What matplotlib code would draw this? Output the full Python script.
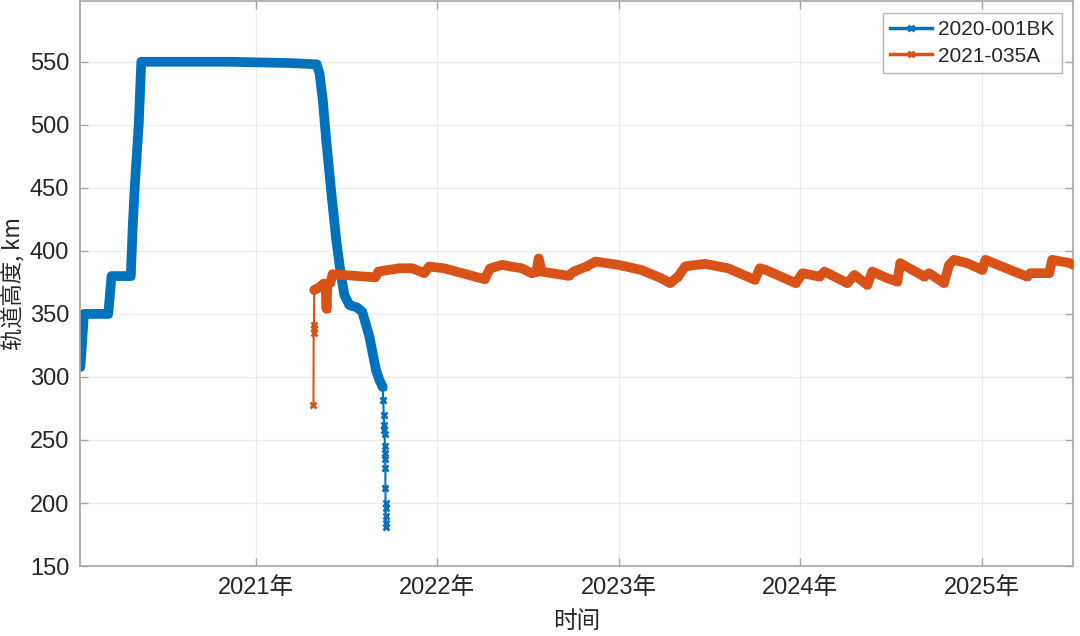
import datetime as dt
import matplotlib
matplotlib.use('Agg')
import matplotlib.pyplot as plt
from matplotlib.lines import Line2D

# decimal years, altitudes in km
blue_t = [2020.037, 2020.045, 2020.056, 2020.190, 2020.199, 2020.208, 2020.314,
          2020.325, 2020.336, 2020.358, 2020.372, 2020.857, 2021.187, 2021.335,
          2021.351, 2021.369, 2021.388, 2021.415, 2021.443, 2021.467, 2021.488,
          2021.516, 2021.560, 2021.587, 2021.626, 2021.662, 2021.681, 2021.699]
blue_h = [308, 325, 350, 350, 365, 380, 380,
          420, 451, 501, 550, 550, 549, 548,
          541, 520, 488, 448, 409, 383, 365,
          357, 355, 351.6, 332, 305.6, 297.6, 292]
# sparse tail of 2020-001BK
tail_t = [2021.702, 2021.705, 2021.708, 2021.709, 2021.710, 2021.711, 2021.712,
          2021.713, 2021.714, 2021.714, 2021.715, 2021.716, 2021.716, 2021.717, 2021.717]
tail_h = [282, 270, 262, 258, 255, 245, 240, 235, 228, 212, 200, 196, 190, 184, 181]

# first samples of 2021-035A (sparse)
start_t = [2021.318, 2021.319, 2021.320, 2021.321, 2021.322]
start_h = [277.5, 334.6, 338.6, 341, 369]
orange_t = [2021.322, 2021.351, 2021.373, 2021.384, 2021.390, 2021.395, 2021.412,
            2021.423, 2021.659, 2021.675, 2021.790, 2021.862, 2021.928, 2021.955,
            2022.037, 2022.262, 2022.290, 2022.356, 2022.465, 2022.520, 2022.545,
            2022.559, 2022.575, 2022.723, 2022.751, 2022.822, 2022.872, 2022.998,
            2023.124, 2023.234, 2023.283, 2023.327, 2023.366, 2023.382, 2023.475,
            2023.602, 2023.750, 2023.777, 2023.810, 2023.975, 2024.013, 2024.106,
            2024.134, 2024.260, 2024.299, 2024.370, 2024.397, 2024.480, 2024.535,
            2024.551, 2024.683, 2024.710, 2024.792, 2024.820, 2024.847, 2024.919,
            2025.001, 2025.018, 2025.177, 2025.248, 2025.265, 2025.369, 2025.385,
            2025.484, 2025.50]
orange_h = [369, 371, 374, 374, 354, 374, 375,
            381.5, 379, 383.6, 386.2, 386.2, 382.3, 387.6,
            386.2, 377.5, 386, 388.9, 386.2, 382.3, 383,
            394, 383.6, 380.2, 383.6, 387.6, 391.5, 388.9,
            384.9, 378.3, 374.4, 379.6, 387.6, 388.1, 389.7,
            386.2, 377, 386.2, 384.9, 374.4, 382.3, 379.6,
            383.6, 374.4, 380.9, 373, 383.6, 378.3, 375.6,
            390.3, 379.6, 382.3, 374.4, 388.9, 392.9, 390.3,
            384.9, 392.9, 383.6, 379.6, 382.3, 382.3, 392.9,
            390.3, 389]

year_ticks = [2021, 2022, 2023, 2024, 2025]
y_ticks = [150, 200, 250, 300, 350, 400, 450, 500, 550]
names = ['2020-001BK', '2021-035A']


def to_date(y):
    yr = int(y)
    return dt.datetime(yr, 1, 1) + dt.timedelta(days=(y - yr) * 365.25)


def dates(ts):
    return [to_date(t) for t in ts]


c_blue = '#0072BD'
c_orange = '#D95319'

plt.rcParams['font.family'] = ['Liberation Sans', 'Noto Sans CJK SC']

fig = plt.figure(figsize=(10.8, 6.36), dpi=100)
ax = fig.add_axes([0.0745, 0.110, 0.919, 0.888])

# thick bands where the samples are dense
ax.plot(dates(blue_t), blue_h, color=c_blue, lw=7, solid_capstyle='round',
        solid_joinstyle='round', zorder=2)
ax.plot(dates(orange_t), orange_h, color=c_orange, lw=7, solid_capstyle='round',
        solid_joinstyle='round', zorder=3)

ax.plot(dates(blue_t + tail_t), blue_h + tail_h, color=c_blue, lw=1.5,
        marker='x', ms=5, mew=2, zorder=2)
ax.plot(dates(start_t + orange_t), start_h + orange_h, color=c_orange, lw=1.5,
        marker='x', ms=5, mew=2, zorder=3)

ax.set_xlim(to_date(2020.037), to_date(2025.50))
ax.set_ylim(150, 598)
ax.set_yticks(y_ticks)
ax.set_xticks([dt.datetime(y, 1, 1) for y in year_ticks])
ax.set_xticklabels(['%d年' % y for y in year_ticks])

ax.grid(True, color='#EBEBEB', lw=0.8)
ax.set_axisbelow(True)
for s in ax.spines.values():
    s.set_color('#A6A6A6')
    s.set_linewidth(1.2)
ax.tick_params(direction='in', length=6, width=1, color='#A6A6A6',
               labelsize=17, labelcolor='#262626', top=True, right=True,
               labeltop=False, labelright=False, pad=8)

ax.set_xlabel('时间', fontsize=17, color='#262626',
              family=['Noto Sans CJK SC'], labelpad=8)
ax.set_ylabel('轨道高度, km', fontsize=16, color='#262626',
              family=['Noto Sans CJK SC', 'Liberation Sans'])
ax.yaxis.set_label_coords(-0.056, 0.5)

handles = [Line2D([], [], color=c, lw=2.5, marker='x', ms=4, mew=2)
           for c in (c_blue, c_orange)]
leg = ax.legend(handles, names, loc='upper right', fontsize=15, frameon=True,
                fancybox=False, edgecolor='#A6A6A6', handlelength=2.0,
                handletextpad=0.3, borderpad=0.35, labelspacing=0.35,
                borderaxespad=0, bbox_to_anchor=(0.989, 0.979))
leg.get_frame().set_linewidth(1.0)
for t in leg.get_texts():
    t.set_color('#262626')

fig.savefig('out.png', dpi=100)
